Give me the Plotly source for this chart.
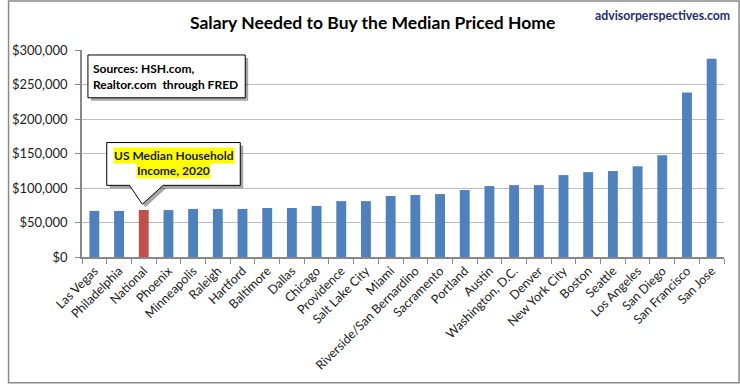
import plotly.graph_objects as go

cities = ["Las Vegas", "Philadelphia", "National", "Phoenix", "Minneapolis", "Raleigh",
          "Hartford", "Baltimore", "Dallas", "Chicago", "Providence", "Salt Lake City",
          "Miami", "Riverside/San Bernardino", "Sacramento", "Portland", "Austin",
          "Washington, D.C.", "Denver", "New York City", "Boston", "Seattle",
          "Los Angeles", "San Diego", "San Francisco", "San Jose"]
salary = [66800, 66800, 68200, 68000, 69700, 69700, 69700, 71000, 71000, 74000,
          81000, 81000, 88400, 89800, 91200, 97000, 102800, 104200, 104200, 118700,
          123000, 124500, 131700, 147600, 238400, 287500]
highlight = "National"
yticks = [0, 50000, 100000, 150000, 200000, 250000, 300000]
yticklabels = [f"${v:,}" for v in yticks]

BLUE = "#4F81BD"
RED = "#C0504D"
FONT = "Lato"

colors = [RED if c == highlight else BLUE for c in cities]

fig = go.Figure(go.Bar(x=cities, y=salary, marker=dict(color=colors, line=dict(width=0)),
                       width=0.4, hoverinfo="x+y"))

# plot area in pixels: x 75..724, y 50..258
W, H = 740, 385
L, R, T, B = 75, 16, 50, 127
pw, ph = W - L - R, H - T - B


def px(x):
    return (x - L) / pw


def py(y):
    return (H - B - y) / ph


shapes = []
annotations = []

# Sources box with shadow
sx0, sx1, sy0, sy1 = px(81), px(240), py(98), py(55)
dx, dy = 3 / pw, 3 / ph
shapes.append(dict(type="rect", xref="paper", yref="paper", x0=sx0 + dx, x1=sx1 + dx,
                   y0=sy0 - dy, y1=sy1 - dy, fillcolor="rgba(0,0,0,0.35)", line=dict(width=0)))
shapes.append(dict(type="rect", xref="paper", yref="paper", x0=sx0, x1=sx1, y0=sy0, y1=sy1,
                   fillcolor="white", line=dict(color="black", width=1)))
annotations.append(dict(xref="paper", yref="paper", x=px(84), y=(sy0 + sy1) / 2,
                        xanchor="left", yanchor="middle", align="left", showarrow=False,
                        text="<b>Sources: HSH.com,<br>Realtor.com  through FRED</b>",
                        font=dict(family=FONT, size=12, color="black")))

# Callout box with pointer
cx0, cx1, cy0, cy1 = px(100), px(235), py(186), py(143)
bx1, bx2 = px(123), px(157)
tx, ty = px(136), py(205)


def callout(ox, oy):
    return (f"M {cx0+ox},{cy1+oy} L {cx1+ox},{cy1+oy} L {cx1+ox},{cy0+oy} L {bx2+ox},{cy0+oy} "
            f"L {tx+ox},{ty+oy} L {bx1+ox},{cy0+oy} L {cx0+ox},{cy0+oy} Z")


shapes.append(dict(type="path", xref="paper", yref="paper", path=callout(dx, -dy),
                   fillcolor="rgba(0,0,0,0.35)", line=dict(width=0)))
shapes.append(dict(type="path", xref="paper", yref="paper", path=callout(0, 0),
                   fillcolor="white", line=dict(color="black", width=1)))
for txt, yy in [("US Median Household", 156.5), ("Income, 2020", 171.5)]:
    annotations.append(dict(xref="paper", yref="paper", x=px(167.5), y=py(yy),
                            xanchor="center", yanchor="middle", showarrow=False,
                            text=f"<b>{txt}</b>", bgcolor="#FFFF00", borderpad=0,
                            font=dict(family=FONT, size=12, color="#1a1a3a")))

# outer border
shapes.append(dict(type="rect", xref="paper", yref="paper",
                   x0=px(0.75), x1=px(W - 0.75), y0=py(H - 0.75), y1=py(0.75),
                   line=dict(color="#8a8a8a", width=1.5), fillcolor="rgba(0,0,0,0)"))

# Title and watermark
annotations.append(dict(xref="paper", yref="paper", x=px(369), y=py(22), xanchor="center",
                        yanchor="middle", showarrow=False,
                        text="<b>Salary Needed to Buy the Median Priced Home</b>",
                        font=dict(family=FONT, size=17.5, color="black")))
annotations.append(dict(xref="paper", yref="paper", x=px(732), y=py(15), xanchor="right",
                        yanchor="middle", showarrow=False,
                        text="<b>advisorperspectives.com</b>",
                        font=dict(family=FONT, size=12.3, color="#1F2F6F")))

fig.update_layout(
    width=W, height=H,
    margin=dict(l=L, r=R, t=T, b=B, pad=0),
    paper_bgcolor="white", plot_bgcolor="white",
    showlegend=False,
    shapes=shapes,
    annotations=annotations,
    font=dict(family=FONT, size=12, color="#222"),
)
fig.update_xaxes(tickangle=-45, ticks="outside", ticklen=5, tickcolor="#888",
                 tickson="boundaries", showline=True, linecolor="#888", linewidth=1.5,
                 showgrid=False, tickfont=dict(family=FONT, size=12.5, color="#222"))
fig.update_yaxes(range=[0, 300000], tickmode="array", tickvals=yticks, ticktext=yticklabels,
                 ticks="outside", ticklen=5, tickcolor="#888", showline=True,
                 linecolor="#888", linewidth=1.5, showgrid=True, gridcolor="#BEBEBE",
                 gridwidth=1.2, zeroline=False, ticklabelstandoff=5,
                 tickfont=dict(family=FONT, size=13, color="#222"))

fig.write_html("out.html", config={"displayModeBar": False},
               post_script="document.body.style.margin='0';document.body.style.padding='0';")
